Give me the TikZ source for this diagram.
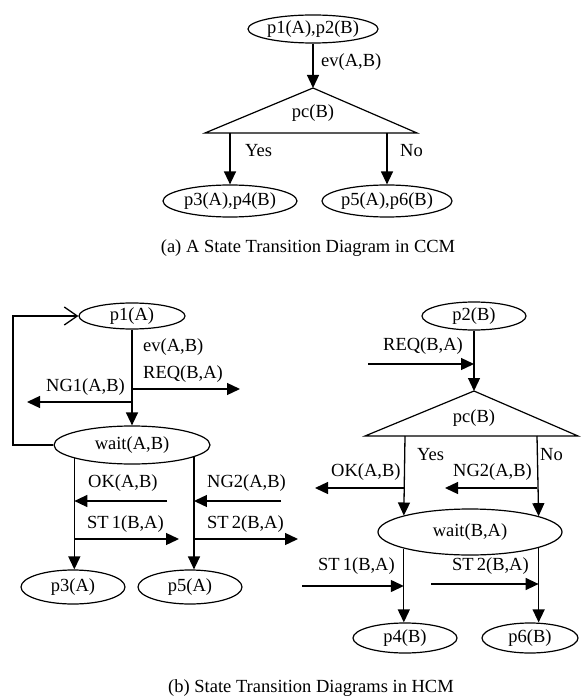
\documentclass[tikz,border=0pt]{standalone}
\usepackage{fontspec}
\setmainfont{Liberation Serif}
\usetikzlibrary{arrows.meta,shapes.geometric}

\begin{document}
\begin{tikzpicture}[x=1pt,y=-1pt,
  every node/.style={font=\fontsize{18.5}{20}\selectfont, inner sep=0pt},
  state/.style={draw, ellipse, line width=1.2pt},
  flow/.style={line width=1.3pt, -{Triangle[length=13pt,width=12pt]}},
  plain/.style={line width=1.3pt},
  back/.style={line width=1.3pt, -{Straight Barb[length=13pt,width=18pt,line width=1.3pt]}},
  tri/.style={line width=1.2pt, line join=miter}
]
\useasboundingbox (0,0) rectangle (580,700);

% ---------- (a) single diagram ----------
\node[state, minimum width=130pt, minimum height=28pt] (a0) at (313,29) {p1(A),p2(B)};
\coordinate (aTop) at (313,88);
\coordinate (aL) at (205,133);
\coordinate (aR) at (417,133);
\draw[tri] (aTop) -- (aL) -- (aR) -- cycle;
\node (apc) at (313,113) {pc(B)};
\draw[flow] (a0) -- (aTop);
\node[anchor=west] (aev) at (321,62) {ev(A,B)};

\coordinate (aYes) at (230,133);
\coordinate (aNo) at (387,133);
\node[state, minimum width=134pt, minimum height=32pt] (a1) at (230,201) {p3(A),p4(B)};
\node[state, minimum width=130pt, minimum height=32pt] (a2) at (387,201) {p5(A),p6(B)};
\draw[flow] (aYes) -- (a1.north -| aYes);
\draw[flow] (aNo) -- (a2.north -| aNo);
\node[anchor=west] (ayl) at (245,151) {Yes};
\node[anchor=west] (anl) at (400,151) {No};

\node (capa) at (308,248) {(a) A State Transition Diagram in CCM};

% ---------- (b) left: process A ----------
\node[state, minimum width=106pt, minimum height=26pt] (p1) at (132,316) {p1(A)};
\node[state, minimum width=156pt, minimum height=38pt] (wA) at (132,445) {wait(A,B)};
\draw[flow] (p1) -- (wA);
\node[anchor=west] (lev) at (143,347) {ev(A,B)};
\node[anchor=west] (lreq) at (143,374) {REQ(B,A)};
\coordinate (jReq) at (132,389);
\coordinate (eReq) at (240,389);
\draw[flow] (jReq) -- (eReq);
\node[anchor=east] (lng1) at (125,387) {NG1(A,B)};
\coordinate (jNg1) at (132,402);
\coordinate (eNg1) at (27,402);
\draw[flow] (jNg1) -- (eNg1);

% return path to p1(A)
\coordinate (loopB) at (13,445);
\coordinate (loopT) at (13,316);
\draw[back] (wA.west) -- (loopB) -- (loopT) -- (p1.west);

\node[state, minimum width=104pt, minimum height=34pt] (p3) at (73,587) {p3(A)};
\node[state, minimum width=104pt, minimum height=34pt] (p5) at (190,587) {p5(A)};
\coordinate (wAl) at (75,565);
\coordinate (wAr) at (192,565);
\draw[flow] (wA.193) -- (wA.193 |- p3.north);
\draw[flow] (wA.349) -- (wA.349 |- p5.north);

\node[anchor=west] (lok) at (88,483) {OK(A,B)};
\node[anchor=west] (lng2) at (207,483) {NG2(A,B)};
\coordinate (sOk) at (167,501);
\coordinate (sNg2) at (281,501);
\draw[flow] (sOk) -- (sOk -| wA.193);
\draw[flow] (sNg2) -- (sNg2 -| wA.349);

\node[anchor=west] (lst1) at (87,524) {ST\,1(B,A)};
\node[anchor=west] (lst2) at (207,524) {ST\,2(B,A)};
\coordinate (eSt1) at (179,539);
\coordinate (eSt2) at (298,539);
\draw[flow] (eSt1 -| wA.193) -- (eSt1);
\draw[flow] (eSt2 -| wA.349) -- (eSt2);

% ---------- (b) right: process B ----------
\node[state, minimum width=104pt, minimum height=28pt] (p2) at (474,316) {p2(B)};
\coordinate (bTop) at (474,391);
\coordinate (bL) at (365,436);
\coordinate (bR) at (578,436);
\draw[tri] (bTop) -- (bL) -- (bR) -- cycle;
\node (bpc) at (474,418) {pc(B)};
\draw[flow] (p2) -- (bTop);
\node[anchor=west] (rreq) at (383,346) {REQ(B,A)};
\coordinate (sReq) at (368,364);
\draw[flow] (sReq) -- (sReq -| p2);

\node[state, minimum width=184pt, minimum height=46pt] (wB) at (470,532) {wait(B,A)};
\coordinate (bYes) at (405,436);
\coordinate (bNo) at (537,436);
\draw[flow] (bYes) -- (wB.166);
\draw[flow] (bNo) -- (wB.13);
\node[anchor=west] (ryl) at (417,455) {Yes};
\node[anchor=west] (rnl) at (540,455) {No};

\node[anchor=west] (rok) at (331,472) {OK(A,B)};
\node[anchor=west] (rng2) at (453,472) {NG2(A,B)};
\coordinate (eOk) at (315,488);
\coordinate (eNg2) at (445,488);
\draw[flow] (eOk -| bYes) -- (eOk);
\draw[flow] (eNg2 -| bNo) -- (eNg2);

\node[state, minimum width=104pt, minimum height=30pt] (p4) at (405,638) {p4(B)};
\node[state, minimum width=96pt, minimum height=30pt] (p6) at (530,638) {p6(B)};
\draw[flow] (wB.194) -- (wB.194 |- p4.north);
\draw[flow] (wB.347) -- (wB.347 |- p6.north);

\node[anchor=west] (rst1) at (318,566) {ST\,1(B,A)};
\node[anchor=west] (rst2) at (452,566) {ST\,2(B,A)};
\coordinate (sSt1) at (302,586);
\coordinate (sSt2) at (431,584);
\draw[flow] (sSt1) -- (sSt1 -| wB.194);
\draw[flow] (sSt2) -- (sSt2 -| wB.347);

\node (capb) at (311,688) {(b) State Transition Diagrams in HCM};
\end{tikzpicture}
\end{document}
